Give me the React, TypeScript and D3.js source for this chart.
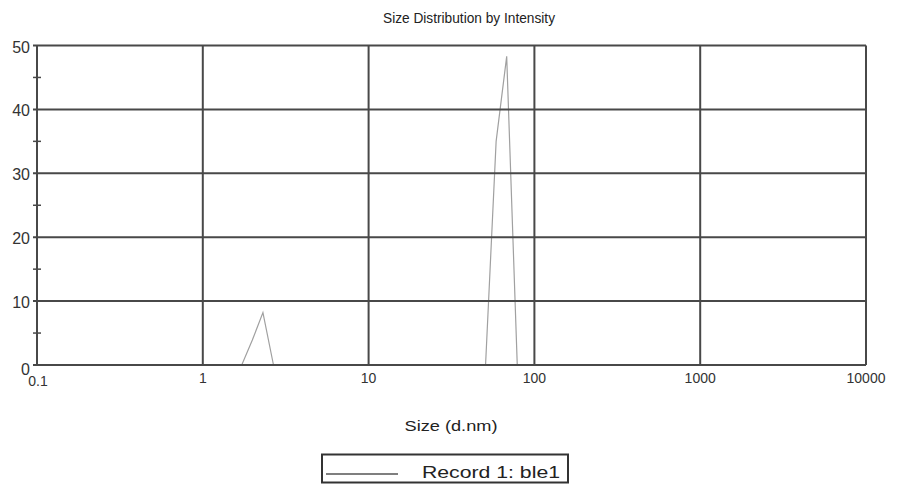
import React from "react";
import * as d3 from "d3";

const sizes = [0.4, 1.484, 1.718, 1.99, 2.305, 2.669, 3.091, 43.82, 50.75, 58.77, 68.06, 78.82, 91.28, 10000];
const intensity = [0, 0, 0, 3.9, 8.2, 0, 0, 0, 0, 35.0, 48.3, 0, 0, 0];
const xTicks = [0.1, 1, 10, 100, 1000, 10000];
const xTickLabels = ["0.1", "1", "10", "100", "1000", "10000"];
const yTicks = [0, 10, 20, 30, 40, 50];
const yMinor = [5, 15, 25, 35, 45];
const title = "Size Distribution by Intensity";
const xTitle = "Size (d.nm)";
const legendLabel = "Record 1: ble1";

const W = 899, H = 486;
const L = 37, R = 866, T = 45.5, B = 365;

export default function App() {
  const x = d3.scaleLog().domain([0.1, 10000]).range([L, R]);
  const y = d3.scaleLinear().domain([0, 50]).range([B, T]);
  const line = d3
    .line<number>()
    .x((_, i) => x(sizes[i]))
    .y((d) => y(d));
  const grid = "#484848";
  const font = "'Liberation Sans', Arial, sans-serif";
  return (
    <svg width={W} height={H} style={{ position: "absolute", left: 0, top: 0 }} fontFamily={font}>
      <rect x={0} y={0} width={W} height={H} fill="#fff" />
      <text x={469} y={23} textAnchor="middle" fontSize={14} fill="#222" textLength={172} lengthAdjust="spacingAndGlyphs">
        {title}
      </text>
      <path d={line(intensity) || ""} fill="none" stroke="#a0a0a0" strokeWidth={1.2} />
      {yTicks.map((t) => (
        <line key={"gy" + t} x1={33} x2={R} y1={y(t)} y2={y(t)} stroke={grid} strokeWidth={2} />
      ))}
      {yMinor.map((t) => (
        <line key={"my" + t} x1={33} x2={41} y1={y(t)} y2={y(t)} stroke={grid} strokeWidth={1.5} />
      ))}
      {xTicks.map((t) => (
        <line key={"gx" + t} x1={x(t)} x2={x(t)} y1={T} y2={B} stroke={grid} strokeWidth={2} />
      ))}
      {yTicks.map((t) => (
        <text key={"ly" + t} x={30} y={t === 0 ? 375 : y(t) + 7} textAnchor="end" fontSize={16} fill="#333">
          {t}
        </text>
      ))}
      {xTicks.map((t, i) => (
        <text
          key={"lx" + t}
          x={i === 0 ? x(t) + 1 : x(t)}
          y={i === 0 ? 386 : 383}
          textAnchor="middle"
          fontSize={14}
          fill="#333"
        >
          {xTickLabels[i]}
        </text>
      ))}
      <text x={451} y={431} textAnchor="middle" fontSize={15} fill="#222" textLength={93} lengthAdjust="spacingAndGlyphs">
        {xTitle}
      </text>
      <rect x={322} y={454.5} width={246} height={28} fill="#fff" stroke="#333" strokeWidth={2} />
      <line x1={326} x2={398} y1={474} y2={474} stroke="#555" strokeWidth={1.5} />
      <text x={560} y={478} textAnchor="end" fontSize={17} fill="#222" textLength={138} lengthAdjust="spacingAndGlyphs">
        {legendLabel}
      </text>
    </svg>
  );
}
